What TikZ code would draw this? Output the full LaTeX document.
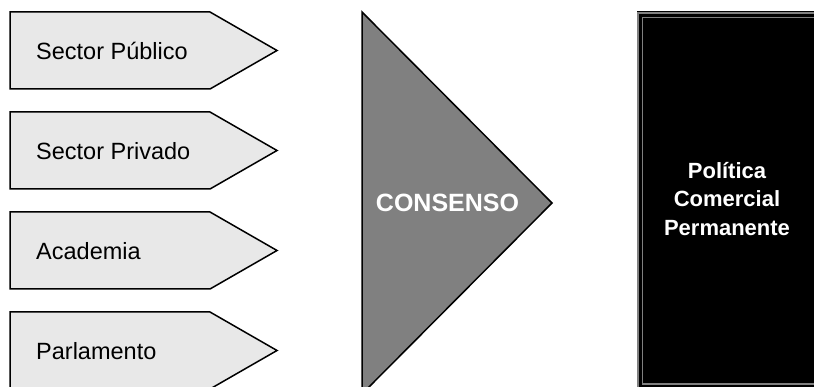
\documentclass[tikz,border=0pt]{standalone}
\usepackage{fontspec}
\setmainfont{Liberation Sans}
\begin{document}
\begin{tikzpicture}[x=1pt,y=-1pt,
  arrowshape/.style={draw=black, line width=1.5pt, fill=black!9, line join=miter},
  arrowtext/.style={anchor=west, inner sep=0pt, font=\fontsize{23.5}{28}\selectfont},
  boldwhite/.style={text=white, font=\bfseries\fontsize{22}{28.5}\selectfont, align=center, inner sep=0pt}]
\useasboundingbox (0,0) rectangle (814,387);
% pentagon arrows
\foreach \i/\t/\nm in {0/Sector Público/a, 1/Sector Privado/b, 2/Academia/c, 3/Parlamento/d}{
  \draw[arrowshape] (10,12+100*\i) -- (210,12+100*\i) -- (277,50.5+100*\i) -- (210,89+100*\i) -- (10,89+100*\i) -- cycle;
  \node[arrowtext] (\nm) at (36,51+100*\i) {\t};
}
% big triangle
\draw[draw=black, line width=1.5pt, fill=black!50, line join=miter] (362,12) -- (552,203) -- (362,394) -- cycle;
\node[boldwhite, font=\bfseries\fontsize{25}{28}\selectfont] (consenso) at (447.5,203) {CONSENSO};
% black box
\fill[black] (636.5,11.5) rectangle (825,395);
\draw[black!50, line width=2.6pt] (638,13) rectangle (822,392);
\draw[black!50, line width=1.6pt] (642.6,17.7) rectangle (815,383.7);
\node[boldwhite] (pol) at (727,199) {Política\\Comercial\\Permanente};
\end{tikzpicture}
\end{document}
